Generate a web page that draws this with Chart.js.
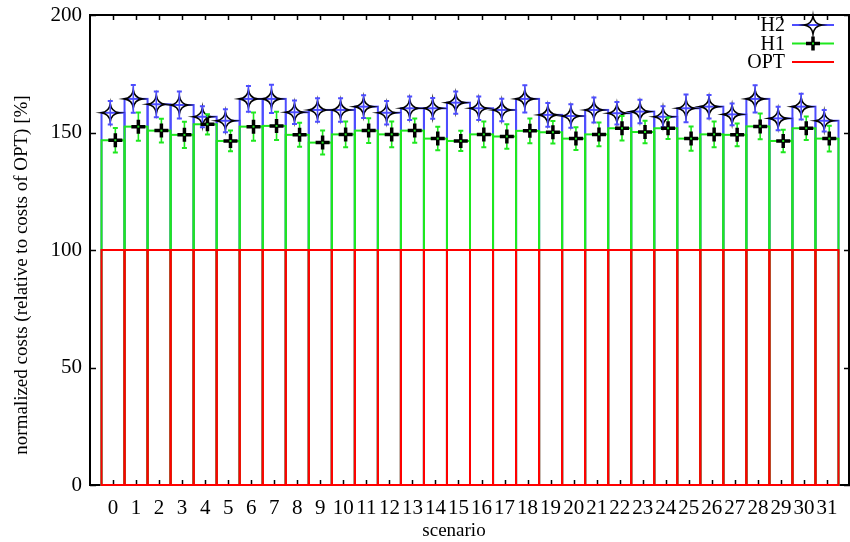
<!DOCTYPE html>
<html>
<head>
<meta charset="utf-8">
<title>normalized costs per scenario</title>
<script src="https://cdn.jsdelivr.net/npm/chart.js@4.4.1/dist/chart.umd.min.js"></script>
<style>
  html, body { margin: 0; padding: 0; background: #fff; }
  #wrap { width: 850px; height: 542px; }
</style>
</head>
<body>
<div id="wrap"><canvas id="costChart" width="850" height="542"></canvas></div>
<script>
// scenario ids on the x axis
const scenarios = [0, 1, 2, 3, 4, 5, 6, 7, 8, 9, 10, 11, 12, 13, 14, 15,
                   16, 17, 18, 19, 20, 21, 22, 23, 24, 25, 26, 27, 28, 29, 30, 31];

// costs relative to OPT, in percent
const optCost = [100, 100, 100, 100, 100, 100, 100, 100, 100, 100, 100, 100, 100, 100, 100, 100,
                 100, 100, 100, 100, 100, 100, 100, 100, 100, 100, 100, 100, 100, 100, 100, 100];
const h1Cost = [146.7, 152.5, 150.8, 149.0, 153.5, 146.4, 152.5, 152.8, 149.0, 145.7, 149.2, 150.8,
                149.2, 150.8, 147.4, 146.4, 149.2, 148.3, 150.7, 150.1, 147.4, 149.2, 151.8, 150.2,
                151.8, 147.4, 149.2, 149.0, 152.6, 146.4, 151.8, 147.4];
const h2Cost = [158.4, 164.3, 162.0, 161.7, 156.7, 155.0, 164.3, 164.3, 158.6, 159.6, 159.6, 161.0,
                158.4, 160.3, 160.3, 162.7, 160.3, 159.6, 164.3, 157.5, 157.0, 159.6, 158.2, 158.9,
                156.7, 160.3, 161.0, 157.7, 164.3, 156.0, 161.0, 155.0];

// half widths of the error bars
const h1Err = [5.2, 6.0, 5.1, 5.6, 4.3, 4.4, 6.0, 6.0, 5.1, 5.1, 5.5, 5.3, 5.5, 5.2, 5.0, 4.3,
               5.5, 5.2, 5.3, 4.8, 4.8, 5.1, 5.2, 4.8, 4.6, 5.2, 5.5, 4.8, 5.5, 4.8, 5.0, 5.5];
const h2Err = [5.0, 5.9, 5.5, 5.7, 4.5, 4.9, 5.5, 6.0, 5.0, 5.0, 5.0, 4.8, 5.0, 5.0, 4.4, 4.7,
               5.0, 4.8, 5.8, 5.1, 5.0, 5.3, 4.8, 5.0, 4.5, 5.9, 5.0, 4.6, 5.8, 5.0, 5.5, 4.6];

const yTicks = [0, 50, 100, 150, 200];

const FONT = '"Liberation Serif", "DejaVu Serif", serif';
const RED = '#ff0000';
const GREEN = '#1ee81e';
const BLUE = '#4d4dff';

// points sit a little left (H2) / right (H1) of the box centre
const H2_SHIFT = -0.12;
const H1_SHIFT = 0.1;

function toXY(values, shift) {
    return scenarios.map((s, i) => ({ x: s + shift, y: values[i] }));
}

function drawStar(ctx, x, y, r) {
    const k = r * 0.12;
    ctx.beginPath();
    ctx.moveTo(x, y - r);
    ctx.quadraticCurveTo(x + k, y - k, x + r, y);
    ctx.quadraticCurveTo(x + k, y + k, x, y + r);
    ctx.quadraticCurveTo(x - k, y + k, x - r, y);
    ctx.quadraticCurveTo(x - k, y - k, x, y - r);
    ctx.closePath();
    ctx.strokeStyle = '#000';
    ctx.lineWidth = 1.6;
    ctx.stroke();
}

function drawPlus(ctx, x, y, r) {
    ctx.beginPath();
    ctx.moveTo(x - r, y);
    ctx.lineTo(x + r, y);
    ctx.moveTo(x, y - r);
    ctx.lineTo(x, y + r);
    ctx.strokeStyle = '#000';
    ctx.lineWidth = 3.5;
    ctx.stroke();
}

function drawErrorBar(ctx, x, yTop, yBot, color) {
    ctx.strokeStyle = color;
    ctx.lineWidth = 1.6;
    ctx.beginPath();
    ctx.moveTo(x, yTop);
    ctx.lineTo(x, yBot);
    ctx.stroke();
    ctx.lineWidth = 2;
    ctx.beginPath();
    ctx.moveTo(x - 2.5, yTop);
    ctx.lineTo(x + 2.5, yTop);
    ctx.moveTo(x - 2.5, yBot);
    ctx.lineTo(x + 2.5, yBot);
    ctx.stroke();
}

// frame with inward ticks on all four sides
const framePlugin = {
    id: 'frame',
    beforeDatasetsDraw(chart) {
        const { ctx, chartArea: a, scales } = chart;
        ctx.save();
        ctx.strokeStyle = '#000';
        ctx.lineWidth = 2;
        ctx.strokeRect(a.left, a.top, a.right - a.left - 1, a.bottom - a.top);
        ctx.lineWidth = 1.5;
        ctx.beginPath();
        scenarios.forEach(s => {
            const px = Math.round(scales.x.getPixelForValue(s)) + 0.5;
            ctx.moveTo(px, a.bottom);
            ctx.lineTo(px, a.bottom - 5);
            ctx.moveTo(px, a.top);
            ctx.lineTo(px, a.top + 5);
        });
        yTicks.forEach(v => {
            const py = Math.round(scales.y.getPixelForValue(v)) + 0.5;
            ctx.moveTo(a.left, py);
            ctx.lineTo(a.left + 6, py);
            ctx.moveTo(a.right, py);
            ctx.lineTo(a.right - 6, py);
        });
        ctx.stroke();
        ctx.restore();
    },
    afterDatasetsDraw(chart) {
        const { ctx, scales } = chart;
        ctx.save();

        // box outlines: H2 first, OPT on top
        [[2, BLUE], [1, GREEN], [0, RED]].forEach(([idx, color]) => {
            ctx.strokeStyle = color;
            ctx.lineWidth = 2;
            chart.getDatasetMeta(idx).data.forEach(bar => {
                const { x, y, base, width } = bar.getProps(['x', 'y', 'base', 'width'], true);
                ctx.strokeRect(x - width / 2, y, width, base - y);
            });
        });

        // H2 points with error bars
        chart.getDatasetMeta(3).data.forEach((pt, i) => {
            const yTop = scales.y.getPixelForValue(h2Cost[i] + h2Err[i]);
            const yBot = scales.y.getPixelForValue(h2Cost[i] - h2Err[i]);
            drawStar(ctx, pt.x, pt.y, 9);
            drawErrorBar(ctx, pt.x, yTop, yBot, BLUE);
        });

        // H1 points with error bars
        chart.getDatasetMeta(4).data.forEach((pt, i) => {
            const yTop = scales.y.getPixelForValue(h1Cost[i] + h1Err[i]);
            const yBot = scales.y.getPixelForValue(h1Cost[i] - h1Err[i]);
            drawErrorBar(ctx, pt.x, yTop, yBot, GREEN);
            drawPlus(ctx, pt.x, pt.y, 7);
            ctx.fillStyle = GREEN;
            ctx.fillRect(pt.x - 1, pt.y - 1, 2, 2);
        });
        ctx.restore();
    },
    afterDraw(chart) {
        const { ctx, chartArea: a } = chart;
        ctx.save();
        ctx.fillStyle = '#000';

        // axis titles
        ctx.font = '19px ' + FONT;
        ctx.textAlign = 'center';
        ctx.textBaseline = 'middle';
        ctx.fillText('scenario', 454, 531);
        ctx.translate(22, 275);
        ctx.rotate(-Math.PI / 2);
        ctx.fillText('normalized costs (relative to costs of OPT) [%]', 0, 0);
        ctx.setTransform(1, 0, 0, 1, 0, 0);

        // key, top right
        const rows = [
            { label: 'H2', color: BLUE, mark: 'star' },
            { label: 'H1', color: GREEN, mark: 'plus' },
            { label: 'OPT', color: RED, mark: null }
        ];
        const textRight = a.right - 65;
        const lineL = a.right - 58;
        const lineR = a.right - 16;
        ctx.font = '20px ' + FONT;
        ctx.textAlign = 'right';
        rows.forEach((r, i) => {
            const y = a.top + 10 + i * 18.5;
            ctx.fillStyle = '#000';
            ctx.fillText(r.label, textRight, y + 1);
            ctx.strokeStyle = r.color;
            ctx.lineWidth = 2;
            ctx.beginPath();
            ctx.moveTo(lineL, y);
            ctx.lineTo(lineR, y);
            ctx.stroke();
            const mx = (lineL + lineR) / 2;
            if (r.mark === 'star') drawStar(ctx, mx, y, 9);
            if (r.mark === 'plus') {
                drawPlus(ctx, mx, y, 7);
                ctx.fillStyle = r.color;
                ctx.fillRect(mx - 1, y - 1, 2, 2);
            }
        });
        ctx.restore();
    }
};

const barCommon = {
    type: 'bar',
    grouped: false,
    barPercentage: 1,
    categoryPercentage: 1,
    backgroundColor: 'rgba(0,0,0,0)',
    borderWidth: 0
};

const pointCommon = {
    type: 'line',
    showLine: false,
    pointRadius: 0,
    pointHoverRadius: 0
};

new Chart(document.getElementById('costChart'), {
    type: 'bar',
    data: {
        datasets: [
            Object.assign({ label: 'OPT', data: toXY(optCost, 0), borderColor: RED }, barCommon),
            Object.assign({ label: 'H1', data: toXY(h1Cost, 0), borderColor: GREEN }, barCommon),
            Object.assign({ label: 'H2', data: toXY(h2Cost, 0), borderColor: BLUE }, barCommon),
            Object.assign({ label: 'H2 mean', data: toXY(h2Cost, H2_SHIFT) }, pointCommon),
            Object.assign({ label: 'H1 mean', data: toXY(h1Cost, H1_SHIFT) }, pointCommon)
        ]
    },
    options: {
        responsive: false,
        animation: false,
        devicePixelRatio: 1,
        layout: { padding: { top: 15, right: 0, left: 0, bottom: 0 } },
        plugins: {
            legend: { display: false },
            tooltip: { enabled: false }
        },
        scales: {
            x: {
                type: 'linear',
                min: -1,
                max: 32,
                offset: false,
                grid: { display: false, drawTicks: false },
                border: { display: false },
                ticks: {
                    autoSkip: false,
                    maxRotation: 0,
                    minRotation: 0,
                    padding: 11,
                    color: '#000',
                    font: { family: FONT, size: 21 },
                    callback: function(value) {
                        return String(value);
                    }
                },
                afterBuildTicks: function(scale) {
                    scale.ticks = scenarios.map(v => ({ value: v }));
                },
                afterFit: function(scale) {
                    scale.height = 57;
                    scale.paddingLeft = 0;
                    scale.paddingRight = 0;
                }
            },
            y: {
                min: 0,
                max: 200,
                grid: { display: false, drawTicks: false },
                border: { display: false },
                ticks: {
                    stepSize: 50,
                    padding: 8,
                    color: '#000',
                    font: { family: FONT, size: 21 }
                },
                afterFit: function(scale) {
                    scale.width = 90;
                    scale.paddingTop = 0;
                    scale.paddingBottom = 0;
                }
            }
        }
    },
    plugins: [framePlugin]
});
</script>
</body>
</html>
